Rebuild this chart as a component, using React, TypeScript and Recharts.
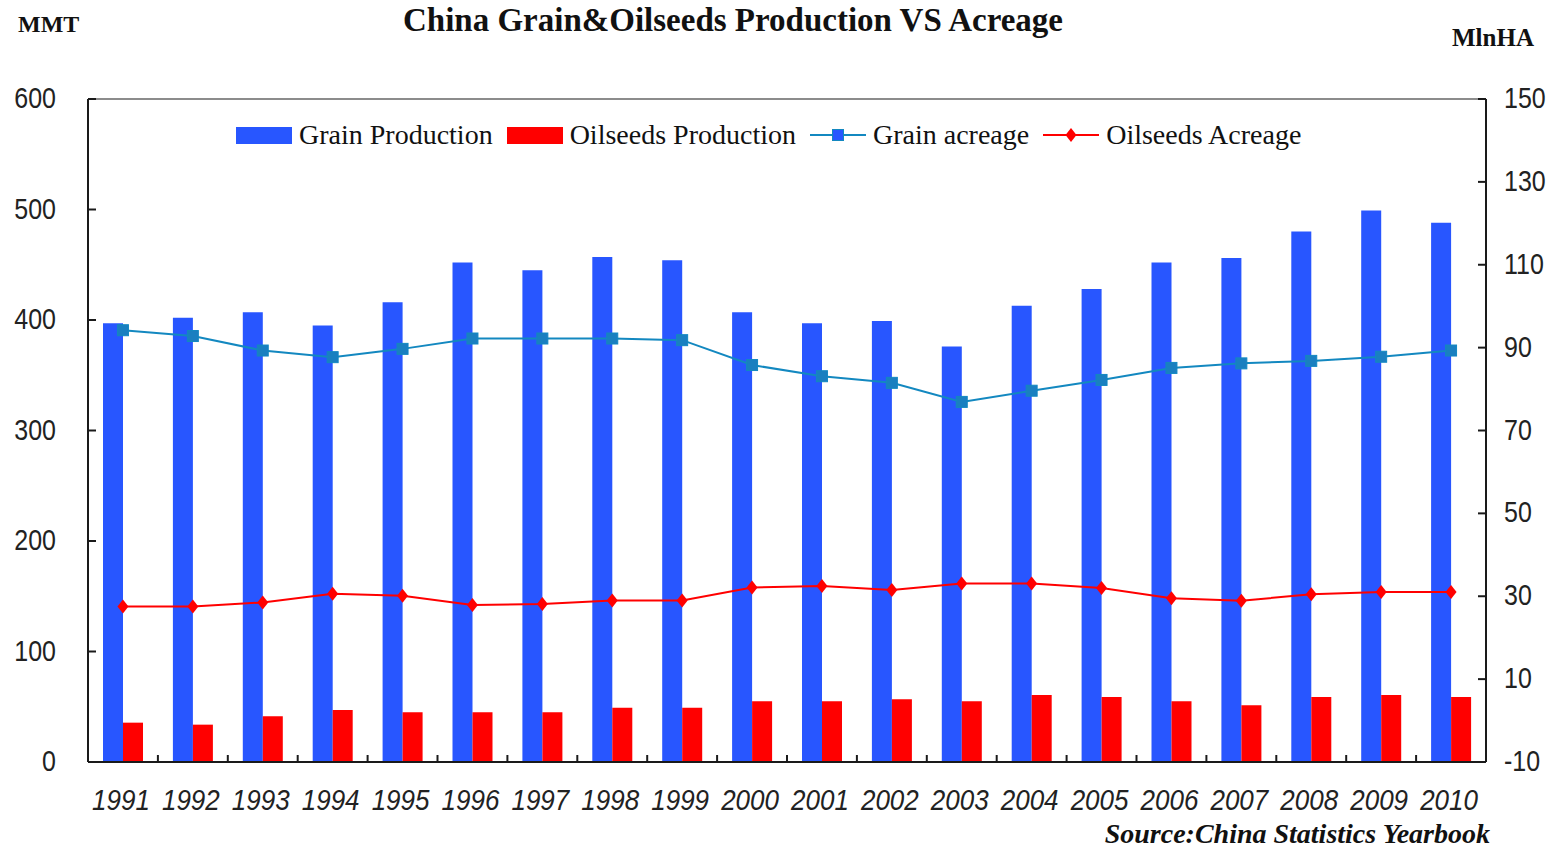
import { Bar, ComposedChart, Legend, Line, ReferenceLine, XAxis, YAxis } from "recharts";

const years = [
  "1991", "1992", "1993", "1994", "1995", "1996", "1997", "1998", "1999", "2000",
  "2001", "2002", "2003", "2004", "2005", "2006", "2007", "2008", "2009", "2010",
];
const grainProduction = [397, 402, 407, 395, 416, 452, 445, 457, 454, 407, 397, 399, 376, 413, 428, 452, 456, 480, 499, 488];
const oilseedsProduction = [35.6, 33.8, 41.3, 47.1, 45, 45, 45, 49.2, 49.2, 54.9, 54.9, 56.7, 54.9, 60.6, 58.8, 54.9, 51.3, 58.8, 60.6, 58.8];
const grainAcreage = [94.2, 92.8, 89.3, 87.7, 89.7, 92.2, 92.2, 92.2, 91.8, 85.8, 83.1, 81.5, 76.9, 79.6, 82.2, 85.1, 86.2, 86.8, 87.8, 89.3];
const oilseedsAcreage = [27.5, 27.5, 28.5, 30.6, 30.1, 27.9, 28.1, 29.0, 29.0, 32.1, 32.5, 31.5, 33.1, 33.1, 32.0, 29.5, 28.9, 30.5, 31.0, 31.0];
const leftTicks = [0, 100, 200, 300, 400, 500, 600];
const rightTicks = [-10, 10, 30, 50, 70, 90, 110, 130, 150];

const data = years.map((year, i) => ({
  year,
  grainProd: grainProduction[i],
  oilProd: oilseedsProduction[i],
  grainAcre: grainAcreage[i],
  oilAcre: oilseedsAcreage[i],
}));

const W = 1563;
const H = 848;
const MARGIN = { top: 99, right: 17, bottom: 46, left: 28 };
const PLOT_W = W - MARGIN.left - MARGIN.right - 120;
const HALF_BAND = PLOT_W / years.length / 2;

const BLUE = "#2856ff";
const RED = "#ff0000";
const TEAL = "#1388c0";
const AXIS = "#1a1a1a";
const LABEL = "#222";
const SANS = "'Liberation Sans', Arial, sans-serif";
const SERIF = "'Liberation Serif', 'Times New Roman', serif";

function LeftTick(props: any) {
  const { x, y, payload } = props;
  return (
    <g>
      <line x1={x} x2={x + 8} y1={y} y2={y} stroke={AXIS} strokeWidth={2} />
      <text transform={`translate(${x - 32},${y + 9}) scale(1,1.15)`} textAnchor="end" fontFamily={SANS} fontSize={25} fill={LABEL}>
        {payload.value}
      </text>
    </g>
  );
}

function RightTick(props: any) {
  const { x, y, payload } = props;
  return (
    <g>
      <line x1={x - 8} x2={x} y1={y} y2={y} stroke={AXIS} strokeWidth={2} />
      <text transform={`translate(${x + 18},${y + 9}) scale(1,1.15)`} textAnchor="start" fontFamily={SANS} fontSize={25} fill={LABEL}>
        {payload.value}
      </text>
    </g>
  );
}

function YearTick(props: any) {
  const { x, y, payload, index } = props;
  return (
    <g>
      {index > 0 && <line x1={x - HALF_BAND} x2={x - HALF_BAND} y1={y} y2={y - 7} stroke={AXIS} strokeWidth={2} />}
      <text transform={`translate(${x - 2},${y + 48}) scale(1,1.15)`} textAnchor="middle" fontFamily={SANS} fontStyle="italic" fontSize={26} fill={LABEL}>
        {payload.value}
      </text>
    </g>
  );
}

function SquareDot(props: any) {
  const { cx, cy } = props;
  if (cx == null || cy == null) return <g />;
  return <rect x={cx - 5.5} y={cy - 5.5} width={11} height={11} fill="#1a7fc0" stroke={TEAL} strokeWidth={1} />;
}

function DiamondDot(props: any) {
  const { cx, cy } = props;
  if (cx == null || cy == null) return <g />;
  return <polygon points={`${cx},${cy - 7} ${cx + 5.5},${cy} ${cx},${cy + 7} ${cx - 5.5},${cy}`} fill={RED} />;
}

const legendOrder = ["grainProd", "oilProd", "grainAcre", "oilAcre"];

function LegendIcon({ kind }: { kind: string }) {
  if (kind === "grainProd") return <div style={{ width: 56, height: 17, background: BLUE }} />;
  if (kind === "oilProd") return <div style={{ width: 56, height: 17, background: RED }} />;
  const color = kind === "grainAcre" ? TEAL : RED;
  return (
    <svg width={56} height={20}>
      <line x1={0} x2={56} y1={10} y2={10} stroke={color} strokeWidth={2} />
      {kind === "grainAcre" ? (
        <rect x={22.5} y={4.5} width={11} height={11} fill={BLUE} stroke={TEAL} />
      ) : (
        <polygon points="28,3 33.5,10 28,17 22.5,10" fill={RED} />
      )}
    </svg>
  );
}

function ChartLegend(props: any) {
  const items = [...(props.payload || [])].sort(
    (a: any, b: any) => legendOrder.indexOf(a.dataKey) - legendOrder.indexOf(b.dataKey)
  );
  return (
    <div style={{ display: "flex", alignItems: "center", fontFamily: SERIF, fontSize: 28, color: "#111", whiteSpace: "nowrap" }}>
      {items.map((item: any) => (
        <div key={item.dataKey} style={{ display: "flex", alignItems: "center", marginRight: 14 }}>
          <LegendIcon kind={item.dataKey} />
          <span style={{ marginLeft: 7 }}>{item.value}</span>
        </div>
      ))}
    </div>
  );
}

export default function App() {
  return (
    <div style={{ position: "absolute", left: 0, top: 0, width: W, height: H, background: "#fff" }}>
      <ComposedChart width={W} height={H} data={data} margin={MARGIN} barGap={0} barSize={20}>
        <XAxis
          dataKey="year"
          xAxisId="x"
          interval={0}
          height={40}
          tickSize={0}
          tickMargin={0}
          tickLine={false}
          axisLine={{ stroke: AXIS, strokeWidth: 2 }}
          tick={<YearTick />}
        />
        <YAxis
          yAxisId="left"
          orientation="left"
          width={60}
          domain={[0, 600]}
          ticks={leftTicks}
          interval={0}
          tickSize={0}
          tickMargin={0}
          tickLine={false}
          axisLine={{ stroke: AXIS, strokeWidth: 2 }}
          tick={<LeftTick />}
        />
        <YAxis
          yAxisId="right"
          orientation="right"
          width={60}
          domain={[-10, 150]}
          ticks={rightTicks}
          interval={0}
          tickSize={0}
          tickMargin={0}
          tickLine={false}
          axisLine={{ stroke: AXIS, strokeWidth: 2 }}
          tick={<RightTick />}
        />
        <ReferenceLine xAxisId="x" yAxisId="left" y={600} stroke="#8c8c8c" strokeWidth={2} />
        <Legend
          layout="horizontal"
          verticalAlign="middle"
          align="center"
          wrapperStyle={{ left: 236, top: 119, width: "auto" }}
          content={<ChartLegend />}
        />
        <Bar xAxisId="x" yAxisId="left" dataKey="grainProd" name="Grain Production" fill={BLUE} isAnimationActive={false} />
        <Bar xAxisId="x" yAxisId="left" dataKey="oilProd" name="Oilseeds Production" fill={RED} isAnimationActive={false} />
        <Line
          xAxisId="x"
          yAxisId="right"
          type="linear"
          dataKey="grainAcre"
          name="Grain acreage"
          stroke={TEAL}
          strokeWidth={2}
          dot={<SquareDot />}
          activeDot={false}
          isAnimationActive={false}
        />
        <Line
          xAxisId="x"
          yAxisId="right"
          type="linear"
          dataKey="oilAcre"
          name="Oilseeds Acreage"
          stroke={RED}
          strokeWidth={2}
          dot={<DiamondDot />}
          activeDot={false}
          isAnimationActive={false}
        />
      </ComposedChart>
      <div style={{ position: "absolute", left: 0, top: 2, width: 1466, textAlign: "center", fontFamily: SERIF, fontWeight: "bold", fontSize: 33, color: "#111" }}>
        China Grain&amp;Oilseeds Production VS Acreage
      </div>
      <div style={{ position: "absolute", left: 18, top: 11, fontFamily: SERIF, fontWeight: "bold", fontSize: 24, color: "#111" }}>
        MMT
      </div>
      <div style={{ position: "absolute", left: 1452, top: 24, fontFamily: SERIF, fontWeight: "bold", fontSize: 25, color: "#111" }}>
        MlnHA
      </div>
      <div style={{ position: "absolute", right: 73, top: 818, fontFamily: SERIF, fontWeight: "bold", fontStyle: "italic", fontSize: 28, color: "#111" }}>
        Source:China Statistics Yearbook
      </div>
    </div>
  );
}
